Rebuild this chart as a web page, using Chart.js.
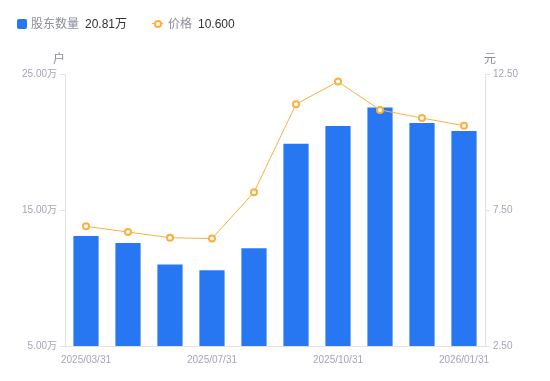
<!DOCTYPE html>
<html>
<head>
<meta charset="utf-8">
<script src="https://cdn.jsdelivr.net/npm/chart.js@4.4.1/dist/chart.umd.min.js"></script>
<style>
  html, body { margin: 0; padding: 0; background: #fff; }
  #wrap { position: relative; width: 550px; height: 381px; font-family: 'Liberation Sans', 'Noto Sans CJK SC', sans-serif; }
  canvas { position: absolute; left: 0; top: 0; }
  .lg { position: absolute; top: 16px; font-size: 12px; line-height: 16px; white-space: nowrap; }
  .lbl { color: #8a8c99; }
  .val { color: #333; margin-left: 6px; }
  .sq { position: absolute; left: 17px; top: 19px; width: 10px; height: 10px; border-radius: 2px; background: #2777f2; }
  .mk { position: absolute; left: 152px; top: 23px; width: 11px; height: 1px; background: #f8b13d; }
  .mkc { position: absolute; left: 154px; top: 20px; width: 4px; height: 4px; border: 2px solid #f8b13d; border-radius: 50%; background: #fff; }
  .ax { position: absolute; top: 49px; font-size: 12px; color: #8a8c99; }
</style>
</head>
<body>
<div id="wrap">
  <canvas id="c" width="550" height="381"></canvas>
  <div class="sq"></div>
  <div class="lg" style="left:31px"><span class="lbl">股东数量</span><span class="val">20.81万</span></div>
  <div class="mk"></div><div class="mkc"></div>
  <div class="lg" style="left:168px"><span class="lbl">价格</span><span class="val">10.600</span></div>
  <div class="ax" style="left:53px">户</div>
  <div class="ax" style="left:484px">元</div>
</div>
<script>
const categories = ['2025/03/31','2025/04/30','2025/06/30','2025/07/31','2025/08/31','2025/09/30','2025/10/31','2025/11/30','2025/12/31','2026/01/31'];
const holders = [13.08, 12.57, 11.00, 10.57, 12.18, 19.87, 21.17, 22.53, 21.39, 20.81]; // 万户
const prices = [6.90, 6.69, 6.48, 6.45, 8.15, 11.39, 12.22, 11.18, 10.88, 10.60]; // 元
const shownLabels = ['2025/03/31','2025/07/31','2025/10/31','2026/01/31'];
const leftTicks = [5, 15, 25];
const rightTicks = [2.5, 7.5, 12.5];

const tickColor = '#a3a5b5';
const axisColor = '#e3e3e6';
const font = { family: "'Liberation Sans', 'Noto Sans CJK SC', sans-serif", size: 10 };

new Chart(document.getElementById('c'), {
  data: {
    labels: categories,
    datasets: [
      {
        type: 'line', label: '价格', data: prices, yAxisID: 'y1',
        borderColor: '#f8b13d', borderWidth: 1, tension: 0,
        pointRadius: 3, pointBorderWidth: 2, pointBackgroundColor: '#fff', pointBorderColor: '#f8b13d',
        order: 0
      },
      {
        type: 'bar', label: '股东数量', data: holders, yAxisID: 'y',
        backgroundColor: '#2777f2', categoryPercentage: 1, barPercentage: 0.6,
        order: 1
      }
    ]
  },
  options: {
    responsive: false, animation: false,
    layout: { padding: { top: 74, left: 0, right: 0, bottom: 0 } },
    plugins: { legend: { display: false }, tooltip: { enabled: false } },
    scales: {
      x: {
        grid: { display: false },
        border: { display: true, color: axisColor },
        ticks: {
          autoSkip: false, maxRotation: 0, color: tickColor, font, padding: 0,
          callback: function (v) { const l = this.getLabelForValue(v); return shownLabels.includes(l) ? l : ''; }
        },
        afterFit: s => { s.height = 35; }
      },
      y: {
        position: 'left', min: 5, max: 25,
        grid: { drawOnChartArea: false, color: axisColor, tickLength: 5 },
        border: { display: true, color: axisColor },
        afterBuildTicks: s => { s.ticks = leftTicks.map(v => ({ value: v })); },
        ticks: { color: tickColor, font, padding: 3, callback: v => v.toFixed(2) + '万' },
        afterFit: s => { s.width = 65; }
      },
      y1: {
        position: 'right', min: 2.5, max: 12.5,
        grid: { drawOnChartArea: false, color: axisColor, tickLength: 5 },
        border: { display: true, color: axisColor },
        afterBuildTicks: s => { s.ticks = rightTicks.map(v => ({ value: v })); },
        ticks: { color: tickColor, font, padding: 3, callback: v => v.toFixed(2) },
        afterFit: s => { s.width = 65; }
      }
    }
  }
});
</script>
</body>
</html>
